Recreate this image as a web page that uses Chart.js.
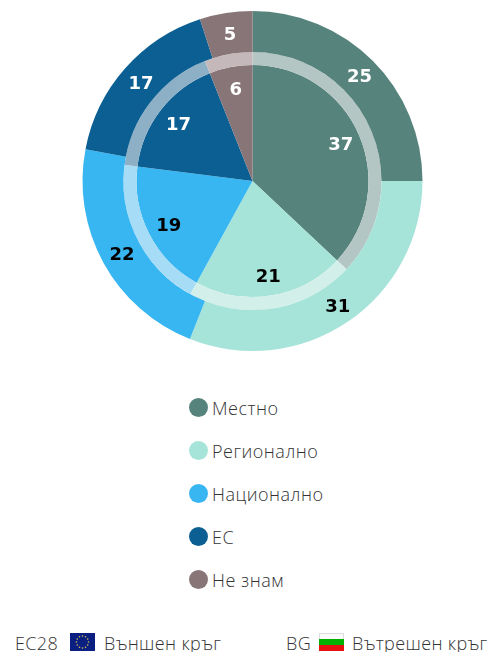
<!DOCTYPE html>
<html><head><meta charset="utf-8">
<style>
html,body{margin:0;padding:0;background:#fff;width:496px;height:652px;overflow:hidden;font-family:"Open Sans",sans-serif;font-weight:300;color:#333}
#wrap{position:absolute;left:0;top:0;width:496px;height:362px}
.li{position:absolute;left:189px;height:20px;display:flex;align-items:center;font-size:18px;letter-spacing:.5px;white-space:nowrap}
.dot{width:19px;height:19px;border-radius:50%;margin-right:4px;flex:none;transform:translateY(-1px)}
.foot{position:absolute;top:633px;height:20px;font-size:18px;letter-spacing:.38px;line-height:20px;white-space:nowrap}
.flag{position:absolute;top:633px}
</style></head><body>
<div id="wrap"><canvas id="c" width="496" height="362"></canvas></div>
<div id="legend"></div>
<div class="foot" style="left:15px">ЕС28</div>
<svg class="flag" style="left:70px" width="25" height="18" viewBox="0 0 25 18"><rect width="25" height="18" fill="#0b1f80"/><g id="stars" fill="#d8c050"></g></svg>
<div class="foot" style="left:104px">Външен кръг</div>
<div class="foot" style="left:286px">BG</div>
<svg class="flag" style="left:319px" width="25" height="18" viewBox="0 0 25 18"><rect x=".5" y=".5" width="24" height="6" fill="#fafafa" stroke="#ddd"/><rect y="6" width="25" height="6" fill="#00b000"/><rect y="12" width="25" height="6" fill="#e81010"/></svg>
<div class="foot" style="left:352px">Вътрешен кръг</div>
<script src="https://cdn.jsdelivr.net/npm/chart.js@4/dist/chart.umd.min.js"></script>
<script>
const categories = ["Местно","Регионално","Национално","ЕС","Не знам"];
const outerEC28 = [25,31,22,17,5];
const innerBG = [37,21,19,17,6];
const colors = ["#57837d","#a6e4d9","#38b6f2","#0b5f92","#877578"];
const ringColors = ["#b3c6c4","#d3efe9","#a6dcf5","#8eb0c6","#c4b8ba"];
const labelColors = ["#fff","#000","#000","#fff","#fff"];
const legendTop = [398,441,484,527,570];

const sliceLabels = {
  id:"sliceLabels",
  afterDatasetsDraw(chart){
    const {ctx} = chart;
    const specs = [[0,150],[2,95]];
    ctx.save();
    ctx.font = "bold 18px 'DejaVu Sans'";
    ctx.textAlign="center"; ctx.textBaseline="middle";
    specs.forEach(([di,r])=>{
      const ds = chart.data.datasets[di];
      chart.getDatasetMeta(di).data.forEach((arc,i)=>{
        const a = (arc.startAngle+arc.endAngle)/2;
        ctx.fillStyle = labelColors[i];
        ctx.fillText(String(ds.data[i]), arc.x+Math.cos(a)*r+1, arc.y+Math.sin(a)*r+2.5);
      });
    });
    ctx.restore();
  }
};

new Chart(document.getElementById("c"),{
  type:"doughnut",
  data:{labels:categories,datasets:[
    {label:"ЕС28",data:outerEC28,backgroundColor:colors,borderWidth:0,weight:41},
    {label:"ring",data:innerBG,backgroundColor:ringColors,borderWidth:0,weight:13},
    {label:"BG",data:innerBG,backgroundColor:colors,borderWidth:0,weight:116}
  ]},
  options:{
    responsive:false,animation:false,cutout:0,
    layout:{padding:{left:82.5,right:73.5,top:11,bottom:11}},
    plugins:{legend:{display:false},tooltip:{enabled:false}}
  },
  plugins:[sliceLabels]
});

const lg=document.getElementById("legend");
categories.forEach((n,i)=>{
  const d=document.createElement("div");d.className="li";d.style.top=legendTop[i]+"px";
  d.innerHTML='<span class="dot" style="background:'+colors[i]+'"></span><span>'+n+'</span>';
  lg.appendChild(d);
});
const st=document.getElementById("stars");
for(let k=0;k<12;k++){
  const c=document.createElementNS("http://www.w3.org/2000/svg","circle");
  c.setAttribute("cx",12.5+6*Math.cos(k*Math.PI/6));
  c.setAttribute("cy",9+6*Math.sin(k*Math.PI/6));
  c.setAttribute("r",0.8);st.appendChild(c);
}
</script>
</body></html>
